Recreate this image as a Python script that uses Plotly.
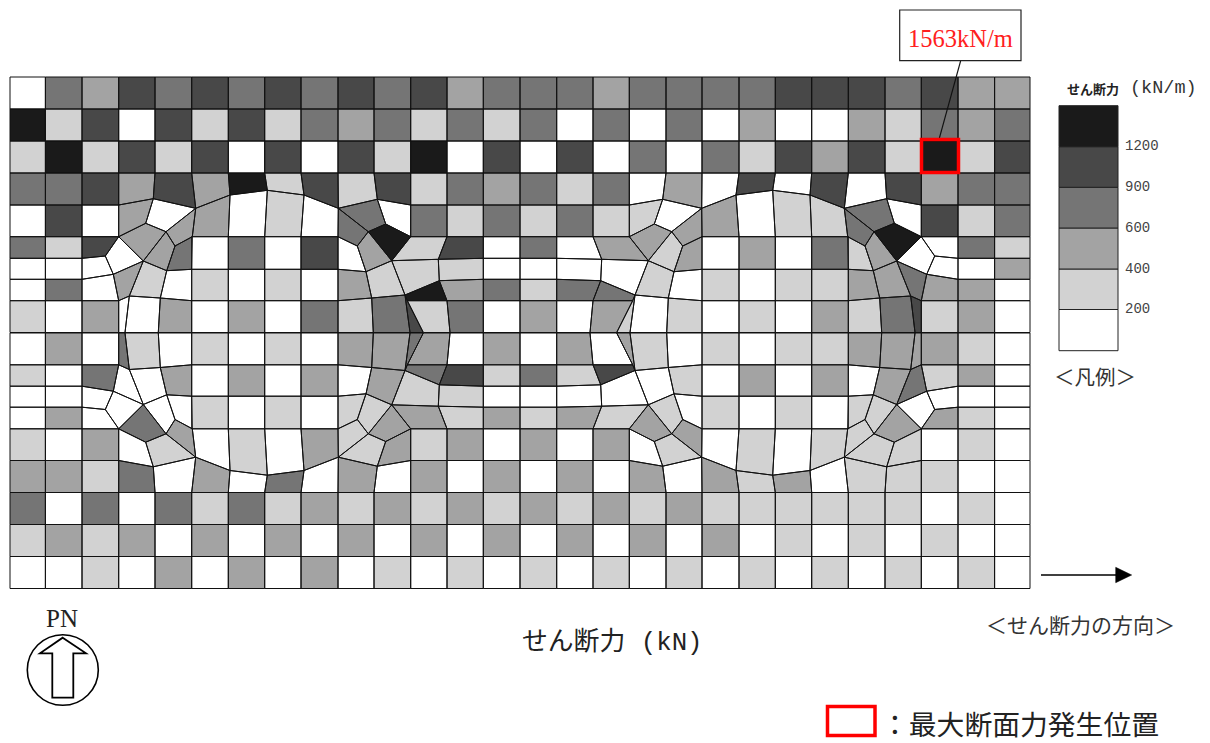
import plotly.graph_objects as go

# ---------- band legend ----------
BAND_COLORS = ["#ffffff", "#d2d2d2", "#a3a3a3", "#757575", "#484848", "#1a1a1a"]
LEGEND_EDGES = [350.7, 309.5, 269, 228, 187.3, 146.7, 105.7]
LEGEND_TICKS = ["200", "400", "600", "900", "1200"]

# ---------- mesh geometry (top-left quadrant, mirrored to the other three) ----------
X = [10, 45.4, 82, 118.7, 155, 191.7, 228.3, 264.7, 301, 338, 374, 410.7, 447, 483.3, 520]
Y_ROWS = [77, 109, 141, 173]
Y4, Y5, YA, YB, YM, Y7, Y8 = 205, 236.7, 258.3, 279.3, 269.3, 300.7, 332.5
ARC_X = [10, 45.4, 82, 118.7, 153.3, 195.7, 230, 267.3, 304, 338.3, 377.3, 410.7, 447, 483.3, 520]
ARC_Y = [205, 205, 205, 205, 198.7, 208.3, 195, 190.3, 195, 208.3, 199.3, 205, 205, 205, 205]
A, B, C, D = (145.7, 223.3), (166, 231.7), (175, 246), (192.3, 236.7)
E, F, G, H = (143.3, 261), (166.7, 270.7), (113.3, 274.3), (105.3, 256)
I, J, K = (129.3, 296), (118.7, 300.7), (160.3, 298)
L, M, N, O = (385.7, 224), (368.3, 231.7), (391.7, 260.7), (357.3, 246)
P, Q, R, S, T = (338, 236.7), (366, 271.7), (405, 295), (371.7, 298), (407.3, 300.7)
U, V = (438.3, 259.3), (439.3, 280.7)
W1, W2, W3, W4, W5, W6 = (125, Y8), (158.3, Y8), (373.3, Y8), (410, Y8), (423.3, Y8), (450, Y8)
MIRROR_X, MIRROR_Y = 1040, 665.5

# ---------- band index of every element, strip by strip (outer row = strip 0), left to right ----------
TOP_LEFT = [
    [0, 3, 2, 4, 3, 4, 3, 4, 3, 4, 3, 4, 2, 3],
    [5, 1, 4, 0, 4, 1, 4, 1, 3, 2, 3, 1, 3, 1],
    [1, 5, 1, 4, 1, 4, 0, 4, 0, 4, 1, 5, 0, 4],
    [3, 3, 4, 2, 4, 2, 5, 1, 4, 1, 4, 1, 3, 2],
    [0, 4, 0, 2, 0, 2, 2, 0, 1, 0, 3, 3, 0, 3, 1, 3],
    [3, 1, 4, 0, 2, 2, 3, 0, 3, 0, 4, 0, 2, 5, 1, 4, 0],
    [0, 0, 0, 2, 1, 0, 1, 0, 1, 0, 2, 1, 1, 5, 1, 2, 0],
    [0, 3, 0, 3],
    [1, 0, 2, 0, 0, 2, 0, 2, 0, 3, 1, 3, 4, 1, 3, 0],
]
TOP_RIGHT = [
    [3, 3, 2, 3, 3, 3, 3, 4, 4, 4, 3, 4, 2, 2],
    [3, 0, 3, 0, 3, 0, 2, 0, 0, 2, 1, 3, 2, 3],
    [0, 4, 0, 3, 0, 3, 1, 4, 2, 4, 1, 5, 1, 4],
    [3, 1, 3, 0, 2, 0, 4, 0, 4, 0, 4, 2, 3, 3],
    [1, 3, 1, 1, 0, 2, 2, 0, 1, 1, 3, 3, 0, 4, 1, 3],
    [3, 0, 2, 2, 1, 2, 0, 2, 0, 3, 1, 2, 5, 0, 0, 3, 1],
    [0, 3, 0, 3, 0, 1, 0, 1, 0, 1, 1, 2, 2, 3, 0, 0, 2],
    [1, 2, 2, 0],
    [2, 0, 2, 1, 0, 1, 0, 1, 0, 2, 1, 3, 4, 1, 2, 0],
]
BOTTOM_LEFT = [
    [0, 0, 1, 0, 2, 0, 2, 0, 2, 0, 1, 0, 1, 0],
    [1, 2, 1, 2, 0, 2, 0, 2, 0, 2, 0, 2, 0, 2],
    [3, 0, 3, 0, 3, 1, 3, 1, 2, 1, 2, 1, 2, 1],
    [2, 2, 1, 3, 0, 2, 0, 3, 0, 2, 0, 2, 0, 2],
    [1, 0, 2, 0, 1, 2, 0, 1, 0, 2, 1, 1, 2, 1, 2, 0],
    [0, 2, 0, 0, 3, 0, 0, 1, 0, 1, 0, 1, 1, 2, 2, 1, 2],
    [0, 0, 0, 0, 0, 2, 0, 2, 0, 2, 0, 2, 1, 3, 1, 4, 0],
    [1, 0, 3, 1],
    [0, 2, 0, 3, 1, 0, 1, 0, 1, 0, 2, 2, 3, 2, 0, 2],
]
BOTTOM_RIGHT = [
    [1, 0, 1, 0, 1, 0, 1, 0, 1, 0, 1, 0, 1, 0],
    [0, 2, 0, 2, 0, 2, 0, 1, 0, 1, 0, 1, 0, 0],
    [2, 1, 2, 1, 2, 1, 1, 1, 1, 1, 1, 0, 1, 0],
    [0, 2, 0, 2, 0, 2, 1, 2, 0, 1, 1, 1, 0, 0],
    [2, 0, 2, 0, 1, 2, 0, 1, 0, 1, 1, 1, 1, 0, 1, 0],
    [1, 2, 1, 2, 1, 0, 1, 0, 1, 0, 1, 1, 2, 0, 2, 1, 0],
    [0, 1, 0, 4, 0, 0, 1, 0, 2, 0, 2, 0, 2, 3, 0, 0, 0],
    [3, 1, 2, 0],
    [0, 2, 0, 2, 1, 0, 1, 0, 1, 1, 2, 2, 2, 2, 1, 0],
]


def rect(c, y0, y1):
    return [(X[c], y0), (X[c + 1], y0), (X[c + 1], y1), (X[c], y1)]


def xy(c, y):
    return (X[c], y)


arc = list(zip(ARC_X, ARC_Y))

strips = []
for r in range(3):
    strips.append([rect(c, Y_ROWS[r], Y_ROWS[r + 1]) for c in range(14)])
strips.append([[xy(c, Y_ROWS[3]), xy(c + 1, Y_ROWS[3]), arc[c + 1], arc[c]] for c in range(14)])
strips.append([
    rect(0, Y4, Y5), rect(1, Y4, Y5), rect(2, Y4, Y5),
    [arc[3], arc[4], A, xy(3, Y5)],
    [arc[4], arc[5], B, A],
    [arc[5], D, C, B],
    [arc[5], arc[6], xy(6, Y5), D],
    [arc[6], arc[7], xy(7, Y5), xy(6, Y5)],
    [arc[7], arc[8], xy(8, Y5), xy(7, Y5)],
    [arc[8], arc[9], P, xy(8, Y5)],
    [arc[9], M, O, P],
    [arc[9], arc[10], L, M],
    [arc[10], arc[11], xy(11, Y5), L],
    rect(11, Y4, Y5), rect(12, Y4, Y5), rect(13, Y4, Y5),
])
strips.append([
    rect(0, Y5, YA), rect(1, Y5, YA),
    [xy(2, Y5), xy(3, Y5), H, xy(2, YA)],
    [xy(3, Y5), E, G, H],
    [xy(3, Y5), A, B, E],
    [B, C, F, E],
    [C, D, xy(5, YM), F],
    rect(5, Y5, YM), rect(6, Y5, YM), rect(7, Y5, YM), rect(8, Y5, YM),
    [P, O, Q, xy(9, YM)],
    [M, N, Q, O],
    [L, xy(11, Y5), N, M],
    [xy(11, Y5), xy(12, Y5), U, N],
    [xy(12, Y5), xy(13, Y5), xy(13, YA), U],
    rect(13, Y5, YA),
])
strips.append([
    rect(0, YA, YB), rect(1, YA, YB),
    [xy(2, YA), H, G, xy(2, YB)],
    [G, E, I, J],
    [E, F, K, I],
    [F, xy(5, YM), xy(5, Y7), K],
    rect(5, YM, Y7), rect(6, YM, Y7), rect(7, YM, Y7), rect(8, YM, Y7),
    [xy(9, YM), Q, S, xy(9, Y7)],
    [Q, N, R, S],
    [N, U, V, R],
    [R, V, xy(12, Y7), T],
    [U, xy(13, YA), xy(13, YB), V],
    [V, xy(13, YB), xy(13, Y7), xy(12, Y7)],
    rect(13, YA, YB),
])
strips.append([
    rect(0, YB, Y7), rect(1, YB, Y7),
    [xy(2, YB), G, J, xy(2, Y7)],
    rect(13, YB, Y7),
])
strips.append([
    rect(0, Y7, Y8), rect(1, Y7, Y8), rect(2, Y7, Y8),
    [J, I, W1, xy(3, Y8)],
    [I, K, W2, W1],
    [K, xy(5, Y7), xy(5, Y8), W2],
    rect(5, Y7, Y8), rect(6, Y7, Y8), rect(7, Y7, Y8), rect(8, Y7, Y8),
    [xy(9, Y7), S, W3, xy(9, Y8)],
    [S, R, W4, W3],
    [R, T, W5, W4],
    [T, xy(12, Y7), W6, W5],
    [xy(12, Y7), xy(13, Y7), xy(13, Y8), W6],
    rect(13, Y7, Y8),
])

fx = [[] for _ in BAND_COLORS]
fy = [[] for _ in BAND_COLORS]
lx, ly = [], []


def add(poly, band, mx, my):
    pts = [((MIRROR_X - x) if mx else x, (MIRROR_Y - y) if my else y) for x, y in poly]
    pts.append(pts[0])
    for x, y in pts:
        fx[band].append(x); fy[band].append(y)
        lx.append(x); ly.append(y)
    fx[band].append(None); fy[band].append(None)
    lx.append(None); ly.append(None)


for s, polys in enumerate(strips):
    for poly, a, b, c, d in zip(polys, TOP_LEFT[s], TOP_RIGHT[s][::-1], BOTTOM_LEFT[s], BOTTOM_RIGHT[s][::-1]):
        add(poly, a, False, False)
        add(poly, b, True, False)
        add(poly, c, False, True)
        add(poly, d, True, True)

fig = go.Figure()
for band, col in enumerate(BAND_COLORS):
    fig.add_trace(go.Scatter(x=fx[band], y=fy[band], mode="lines", fill="toself", fillcolor=col,
                             line=dict(width=0, color=col), hoverinfo="skip", showlegend=False))
fig.add_trace(go.Scatter(x=lx, y=ly, mode="lines", line=dict(color="#111111", width=1),
                         hoverinfo="skip", showlegend=False))

shapes = []
# legend swatches
for i, col in enumerate(BAND_COLORS):
    shapes.append(dict(type="rect", x0=1059, x1=1118, y0=LEGEND_EDGES[i], y1=LEGEND_EDGES[i + 1],
                       fillcolor=col, line=dict(color="#222222", width=1)))
# callout
shapes.append(dict(type="line", x0=960.7, y0=60.7, x1=939.3, y1=138.3, line=dict(color="#111111", width=1.2)))
shapes.append(dict(type="rect", x0=899.7, x1=1021, y0=10, y1=60.7, fillcolor="white",
                   line=dict(color="#222222", width=1.2)))
# maximum marker and its key
shapes.append(dict(type="rect", x0=921.5, x1=958.5, y0=139.5, y1=172.5, line=dict(color="#ff0000", width=3.5)))
shapes.append(dict(type="rect", x0=827.5, x1=875, y0=706.5, y1=735.5, line=dict(color="#ff0000", width=3.5)))
# direction arrow
shapes.append(dict(type="line", x0=1041, y0=575, x1=1116, y1=575, line=dict(color="black", width=1.5)))
shapes.append(dict(type="path", path="M1115.7,567.3 L1131.7,575 L1115.7,582.7 Z", fillcolor="black",
                   line=dict(color="black", width=0.5)))
# north mark
shapes.append(dict(type="circle", x0=27.3, x1=98.3, y0=634.7, y1=705.3, line=dict(color="black", width=1.6)))
shapes.append(dict(type="path",
                   path="M62.7,637.7 L86,653.3 L73.3,653.3 L73.3,697.7 L52.3,697.7 L52.3,653.3 L40,653.3 Z",
                   fillcolor="white", line=dict(color="black", width=1.8)))

SERIF = "Liberation Serif, Noto Sans CJK JP"
MONO = "Liberation Mono, Noto Sans CJK JP"
CJK = "Noto Sans CJK JP"


def label(x, y, text, size, family=SERIF, color="#222222", anchor="left"):
    return dict(x=x, y=y, xref="x", yref="y", text=text, showarrow=False, xanchor=anchor, yanchor="middle",
                font=dict(family=family, size=size, color=color))


annotations = [
    label(960.5, 38, "1563kN/m", 24.5, color="#ff2020", anchor="center"),
    label(1065, 88, "<b>せん断力</b>", 13, family=CJK, color="#222222"),
    label(1128, 88, "(kN/m)", 18.5, family=MONO, color="#333333"),
    label(1052, 376, "＜凡例＞", 20.5, family=CJK, color="#333333"),
    label(612, 642, "せん断力 (kN)", 25.8, family=MONO, color="#222222", anchor="center"),
    label(984, 624, "＜せん断力の方向＞", 21, family=CJK, color="#333333"),
    label(62, 618, "PN", 25, color="#222222", anchor="center"),
    label(878.5, 723, "：最大断面力発生位置", 27.8, family=CJK, color="#222222"),
]
for tick, edge in zip(LEGEND_TICKS, LEGEND_EDGES[1:6]):
    annotations.append(label(1122.5, edge - 0.5, tick, 14, family=MONO, color="#444444"))

fig.update_layout(
    width=1210, height=743, margin=dict(l=0, r=0, t=0, b=0, pad=0),
    paper_bgcolor="white", plot_bgcolor="white", showlegend=False,
    xaxis=dict(range=[0, 1210], visible=False, fixedrange=True),
    yaxis=dict(range=[743, 0], visible=False, fixedrange=True),
    shapes=shapes, annotations=annotations,
)
fig.write_html("out.html", config={"displayModeBar": False},
               post_script="document.body.style.margin='0';document.body.style.overflow='hidden';")
